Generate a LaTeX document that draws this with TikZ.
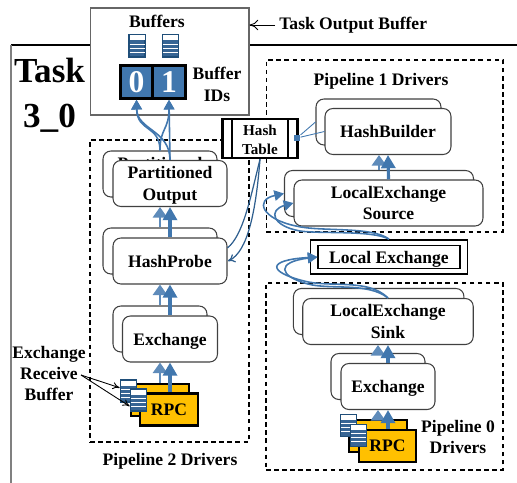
\documentclass[tikz,border=0pt]{standalone}
\usepackage{fontspec}
\setmainfont{Liberation Serif}
\usetikzlibrary{arrows.meta}
\definecolor{flowblue}{HTML}{4177AE}
\definecolor{darkblue}{HTML}{2F5F8F}
\definecolor{iconblue}{HTML}{1F4E79}
\definecolor{rpcyellow}{HTML}{FFC000}
\tikzset{
  label text/.style={font=\fontsize{10}{12.1}\selectfont\bfseries, align=center, inner sep=0pt},
  drvbox/.style={draw=black!75, fill=white, line width=0.6pt, rounded corners=4.5pt,
    font=\fontsize{10}{12.3}\selectfont\bfseries, align=center, inner sep=0pt, text depth=0pt},
  rpcbox/.style={draw=black, fill=rpcyellow, line width=1.3pt,
    minimum width=1.15cm, minimum height=0.64cm,
    font=\fontsize{10}{12}\selectfont\bfseries, inner sep=0pt},
  pipebox/.style={draw=black, line width=0.7pt, dash pattern=on 2.6pt off 2pt},
  idbox/.style={draw=black, fill=flowblue, line width=1.5pt, minimum width=0.65cm,
    minimum height=0.66cm, text=white, inner sep=0pt,
    font=\fontsize{18}{18}\selectfont\bfseries},
  flow/.style={draw=flowblue, line width=1.8pt, -{Triangle[length=7.5pt,width=8pt]}},
  flowback/.style={draw=flowblue!85, line width=1.6pt, -{Triangle[length=6pt,width=8pt]}},
  thinflow/.style={draw=flowblue, line width=0.9pt, -{Triangle[length=5.5pt,width=6pt]}},
  hashflow/.style={draw=darkblue, line width=0.7pt},
  pics/bufstack/.style={code={
    \node[draw=iconblue, fill=flowblue!85!black, line width=1pt, minimum width=0.32cm,
      minimum height=0.44cm, inner sep=0pt] (-box) at (0,0) {};
    \fill[white] (-7.5,-10.5) rectangle (7.5,-5.5);
    \foreach \yy in {-2,2,6}
      \draw[white, line width=0.5pt] (-7.5,\yy) -- (7.5,\yy);
  }}
}
\begin{document}
\begin{tikzpicture}[x=0.02cm, y=-0.02cm]
  \useasboundingbox (0,0) rectangle (517,483);

  % task frame
  \draw[black, line width=0.7pt] (11,45) -- (517,45);
  \draw[black!50, line width=1.2pt] (11,45) -- (11,483);
  \node[font=\fontsize{20}{25.5}\selectfont\bfseries, align=center, inner sep=0pt] (task) at (49.5,95) {Task\\3\_0};

  % output buffer box
  \node[draw=black!60, fill=white, line width=0.7pt, minimum width=3.17cm, minimum height=2.14cm, inner sep=0pt] (outbuf) at (169.7,61.5) {};
  \node[label text] (buffers) at (157,21) {Buffers};
  \pic (buf0) at (137,46) {bufstack};
  \pic (buf1) at (170.5,46) {bufstack};
  \node[idbox] (id0) at (136.5,82) {0};
  \node[idbox] (id1) at (169,82) {1};
  \node[label text] (bufids) at (217,84.5) {Buffer\\IDs};
  \coordinate (outtail) at (275,25);
  \draw[-{To[length=5pt,width=6pt]}, line width=0.5pt] (outtail) -- (outbuf.east |- outtail);
  \node[label text, anchor=west] (outlabel) at (279,25) {Task Output Buffer};

  % pipeline frames
  \node[pipebox, minimum width=3.18cm, minimum height=6.04cm] (pipe2) at (169.5,291) {};
  \node[pipebox, minimum width=4.73cm, minimum height=3.44cm] (pipe1) at (384.7,146) {};
  \node[pipebox, minimum width=4.74cm, minimum height=3.74cm] (pipe0) at (384.5,376.5) {};
  \node[label text] (pipe2label) at (170,461) {Pipeline 2 Drivers};
  \node[label text] (pipe1label) at (381,81) {Pipeline 1 Drivers};
  \node[label text] (pipe0label) at (458,437) {Pipeline 0\\Drivers};

  % pipeline 2
  \node[drvbox, minimum width=2.28cm, minimum height=0.92cm] (poutb) at (160,174) {Partitioned\\Output};
  \node[drvbox, minimum width=2.28cm, minimum height=0.92cm] (pout) at (170,183.5) {Partitioned\\Output};
  \node[drvbox, minimum width=2.28cm, minimum height=0.92cm] (probeb) at (160,251) {};
  \node[drvbox, minimum width=2.28cm, minimum height=0.92cm] (probe) at (170,261) {HashProbe};
  \node[drvbox, minimum width=1.88cm, minimum height=0.92cm] (exb) at (160,329) {};
  \node[drvbox, minimum width=1.9cm, minimum height=0.92cm] (ex) at (170,339) {Exchange};
  \node[rpcbox] (rpcb) at (160,400) {};
  \node[rpcbox] (rpc) at (169,409.5) {RPC};
  \pic (rcv0) at (128.5,391) {bufstack};
  \pic (rcv1) at (138.5,400) {bufstack};
  \node[label text] (rcvlabel) at (49,373.5) {Exchange\\Receive\\Buffer};
  \coordinate (rcvtail) at (81,375);
  \draw[-{To[length=4pt,width=4pt]}, line width=0.5pt] (rcvtail) -- (rcv0-box.160);
  \draw[-{To[length=4pt,width=4pt]}, line width=0.5pt] (rcvtail) -- (rcv1-box.215);

  % pipeline 1
  \node[drvbox, minimum width=2.5cm, minimum height=0.92cm] (buildb) at (378.5,122) {};
  \node[drvbox, minimum width=2.52cm, minimum height=0.92cm] (build) at (388,131.5) {HashBuilder};
  \node[drvbox, minimum width=3.78cm, minimum height=0.92cm] (srcb) at (379,193.5) {};
  \node[drvbox, minimum width=3.78cm, minimum height=0.92cm] (src) at (388.5,203) {LocalExchange\\Source};

  % pipeline 0
  \node[drvbox, minimum width=3.41cm, minimum height=0.92cm] (sinkb) at (378.7,311.5) {};
  \node[drvbox, minimum width=3.41cm, minimum height=0.92cm] (sink) at (388,321.5) {LocalExchange\\Sink};
  \node[drvbox, minimum width=1.88cm, minimum height=0.92cm] (ex0b) at (378,376.5) {};
  \node[drvbox, minimum width=1.88cm, minimum height=0.92cm] (ex0) at (388,386.5) {Exchange};
  \node[rpcbox] (rpc0b) at (378,436) {};
  \node[rpcbox] (rpc0) at (387.5,446) {RPC};
  \pic (rcv2) at (348.5,425.5) {bufstack};
  \pic (rcv3) at (358.5,435.5) {bufstack};

  % local exchange
  \node[draw=black, fill=white, line width=1pt, minimum width=3.14cm, minimum height=0.68cm, inner sep=0pt] (lxo) at (389,257) {};
  \node[draw=black, line width=0.6pt, minimum width=2.84cm, minimum height=0.46cm, inner sep=0pt, text depth=0pt, font=\fontsize{10}{12}\selectfont\bfseries] (lx) at (389,257) {Local Exchange};

  % hash table
  \node[draw=black, fill=white, line width=1.4pt, minimum width=1.5cm, minimum height=0.78cm, inner sep=0pt] (hash) at (260,138.5) {};
  \draw[black, line width=1.4pt] (232,119) -- (232,158) (288,119) -- (288,158);
  \node[font=\fontsize{8.6}{10.8}\selectfont\bfseries, align=center, inner sep=0pt] (hashlabel) at (260,140) {Hash\\Table};
  \node[fill=flowblue, minimum size=0.13cm, inner sep=0pt] (hashport) at (297,138) {};
  \draw[flowblue, line width=0.5pt] (hashport) -- (buildb.west);
  \draw[flowblue, line width=0.5pt] (hashport) -- (build.west);
  \draw[hashflow] (hash.south) .. controls (250,200) and (243,235) .. (probe.east |- 0,248);
  \draw[hashflow, -{To[length=4pt,width=5pt]}] (hash.south) .. controls (256,210) and (248,252) .. (228,261);

  % flows in pipeline 2
  \draw[flowback] (rpcb.north) -- (ex.south -| rpcb.north);
  \draw[flow] (rpc.north -| ex.south) -- (ex.south);
  \draw[flowback] (exb.north) -- (probe.south -| exb.north);
  \draw[flow] (ex.north) -- (probe.south);
  \draw[flowback] (probeb.north) -- (pout.south -| probeb.north);
  \draw[flow] (probe.north) -- (pout.south);
  \draw[thinflow] (pout.north) .. controls (170,130) and (137,130) .. (id0.south);
  \draw[thinflow] (pout.north) -- (id1.south);
  \draw[thinflow] (poutb.north) .. controls (160,125) and (137,132) .. (id0.south);
  \draw[thinflow] (poutb.north) .. controls (160,128) and (169,130) .. (id1.south);

  % flows in pipeline 1
  \draw[flowback] (srcb.north) -- (build.south -| srcb.north);
  \draw[flow] (src.north) -- (build.south);
  \draw[thinflow] (lxo.north) .. controls (372,226) and (320,232) .. (296,226) .. controls (262,219) and (254,200) .. (srcb.west);
  \draw[thinflow] (lxo.north) .. controls (372,230) and (320,234) .. (300,231) .. controls (272,226) and (268,210) .. (src.west);

  % flows in pipeline 0
  \draw[flowback] (ex0b.north) -- (sink.south -| ex0b.north);
  \draw[flow] (ex0.north) -- (sink.south);
  \draw[flowback] (rpc0b.north) -- (ex0.south -| rpc0b.north);
  \draw[flow] (rpc0.north -| ex0.south) -- (ex0.south);
  \draw[thinflow] (sink.north) .. controls (368,278) and (330,288) .. (304,281) .. controls (268,272) and (266,260) .. (lx.west);
  \draw[thinflow] (sink.north) .. controls (368,282) and (330,290) .. (308,284) .. controls (278,276) and (276,262) .. (lx.west);
\end{tikzpicture}
\end{document}
